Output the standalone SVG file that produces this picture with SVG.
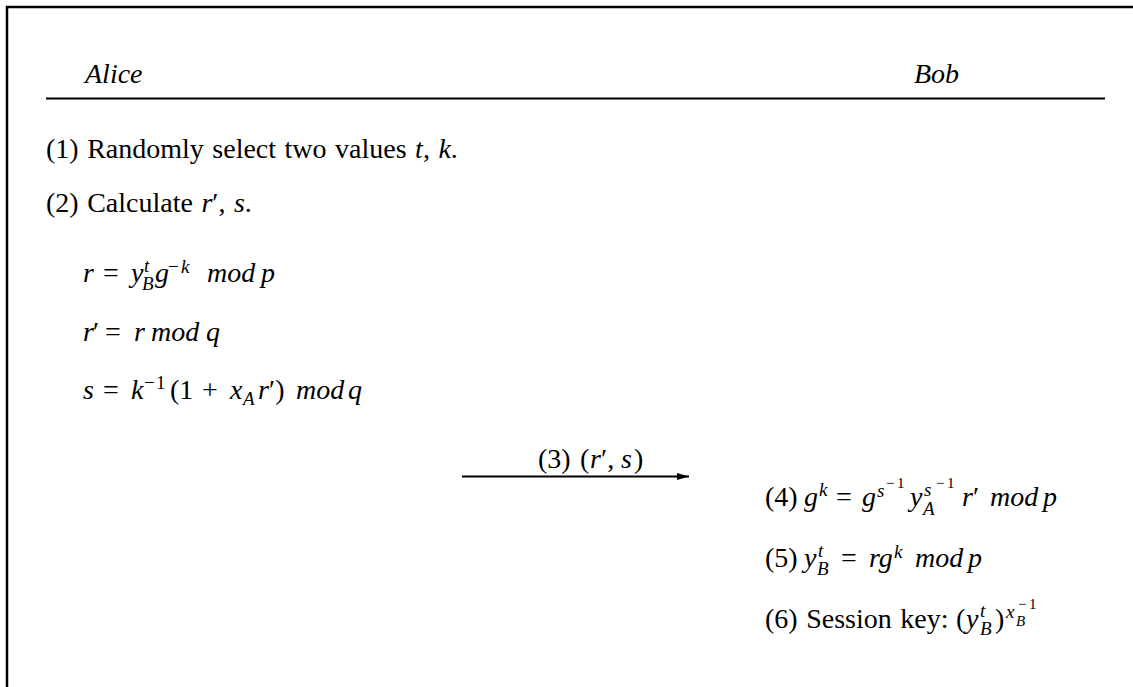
<svg xmlns="http://www.w3.org/2000/svg" width="1133" height="687" viewBox="0 0 1133 687">
<defs>
<style>
text{font-family:"Liberation Serif","DejaVu Serif",serif;font-size:28px;fill:#000}
.i{font-style:italic}
.s1{font-size:19px}
.s2{font-size:15px}
.ln{stroke:#000;fill:none}
</style>
<marker id="ah" viewBox="0 0 12 8" refX="12" refY="4" markerWidth="12" markerHeight="8" markerUnits="userSpaceOnUse" orient="auto">
<path d="M0,0.5 L12,4 L0,7.5 z" fill="#000"/>
</marker>
</defs>
<rect width="1133" height="687" fill="#fff"/>
<path class="ln" d="M7,687 V7 H1133" stroke-width="2.5"/>
<line class="ln" x1="46" y1="98.5" x2="1105" y2="98.5" stroke-width="2"/>
<g id="alice"><text class="i" x="85" y="83">Alice</text></g>
<g id="bob"><text class="i" x="914" y="83">Bob</text></g>
<g id="step1"><text x="46" y="158" word-spacing="1.5">(1) Randomly select two values <tspan class="i">t</tspan>, <tspan class="i">k</tspan>.</text></g>
<g id="step2"><text x="46" y="212" word-spacing="1.5">(2) Calculate <tspan class="i">r</tspan>′, <tspan class="i">s</tspan>.</text></g>
<g id="eq-r"><text y="282"><tspan class="i" x="83">r</tspan><tspan x="103">=</tspan><tspan class="i" x="131">y</tspan><tspan class="i s1" x="144" y="272">t</tspan><tspan class="i s1" x="142" y="290">B</tspan><tspan class="i" x="155" y="282">g</tspan><tspan class="s1" x="168" y="273">−</tspan><tspan class="i s1" x="181" y="273">k</tspan><tspan class="i" x="207" y="282">mod</tspan><tspan class="i" x="261">p</tspan></text></g>
<g id="eq-rp"><text y="341"><tspan class="i" x="83">r</tspan><tspan x="93">′</tspan><tspan x="105">=</tspan><tspan class="i" x="134">r</tspan><tspan class="i" x="151">mod</tspan><tspan class="i" x="206">q</tspan></text></g>
<g id="eq-s"><text y="399"><tspan class="i" x="83">s</tspan><tspan x="103">=</tspan><tspan class="i" x="131">k</tspan><tspan class="s1" x="144" y="389">−</tspan><tspan class="s1" x="156" y="389">1</tspan><tspan x="170" y="399">(1</tspan><tspan x="202">+</tspan><tspan class="i" x="230">x</tspan><tspan class="i s1" x="243" y="405">A</tspan><tspan class="i" x="258" y="399">r</tspan><tspan x="269">′)</tspan><tspan class="i" x="296">mod</tspan><tspan class="i" x="348">q</tspan></text></g>
<g id="connectors">
<line class="ln" x1="462" y1="476.5" x2="689" y2="476.5" stroke-width="2" marker-end="url(#ah)"/>
<text y="468"><tspan x="538">(3)</tspan><tspan x="580">(</tspan><tspan class="i" x="590">r</tspan><tspan x="601">′,</tspan><tspan class="i" x="621">s</tspan><tspan x="634">)</tspan></text>
</g>
<g id="step4"><text y="506"><tspan x="765">(4)</tspan><tspan class="i" x="804">g</tspan><tspan class="i s1" x="819" y="496">k</tspan><tspan x="836" y="506">=</tspan><tspan class="i" x="862">g</tspan><tspan class="i s1" x="877" y="497">s</tspan><tspan class="s2" x="886" y="488">−</tspan><tspan class="s2" x="897" y="488">1</tspan><tspan class="i" x="910" y="506">y</tspan><tspan class="i s1" x="924" y="496">s</tspan><tspan class="i s1" x="923" y="515">A</tspan><tspan class="s2" x="936" y="488">−</tspan><tspan class="s2" x="947" y="488">1</tspan><tspan class="i" x="962" y="506">r</tspan><tspan x="973">′</tspan><tspan class="i" x="990">mod</tspan><tspan class="i" x="1043">p</tspan></text></g>
<g id="step5"><text y="567"><tspan x="765">(5)</tspan><tspan class="i" x="804">y</tspan><tspan class="i s1" x="818" y="557">t</tspan><tspan class="i s1" x="817" y="575">B</tspan><tspan x="841" y="567">=</tspan><tspan class="i" x="869">rg</tspan><tspan class="i s1" x="894" y="558">k</tspan><tspan class="i" x="915" y="567">mod</tspan><tspan class="i" x="968">p</tspan></text></g>
<g id="step6"><text y="628"><tspan x="765" word-spacing="1.5">(6) Session key:</tspan><tspan x="956">(</tspan><tspan class="i" x="966">y</tspan><tspan class="i s1" x="980" y="617">t</tspan><tspan class="i s1" x="980" y="635">B</tspan><tspan x="995" y="628">)</tspan><tspan class="i s1" x="1006" y="618">x</tspan><tspan class="i s2" x="1016" y="626">B</tspan><tspan class="s2" x="1018" y="609">−</tspan><tspan class="s2" x="1029" y="609">1</tspan></text></g>
</svg>
